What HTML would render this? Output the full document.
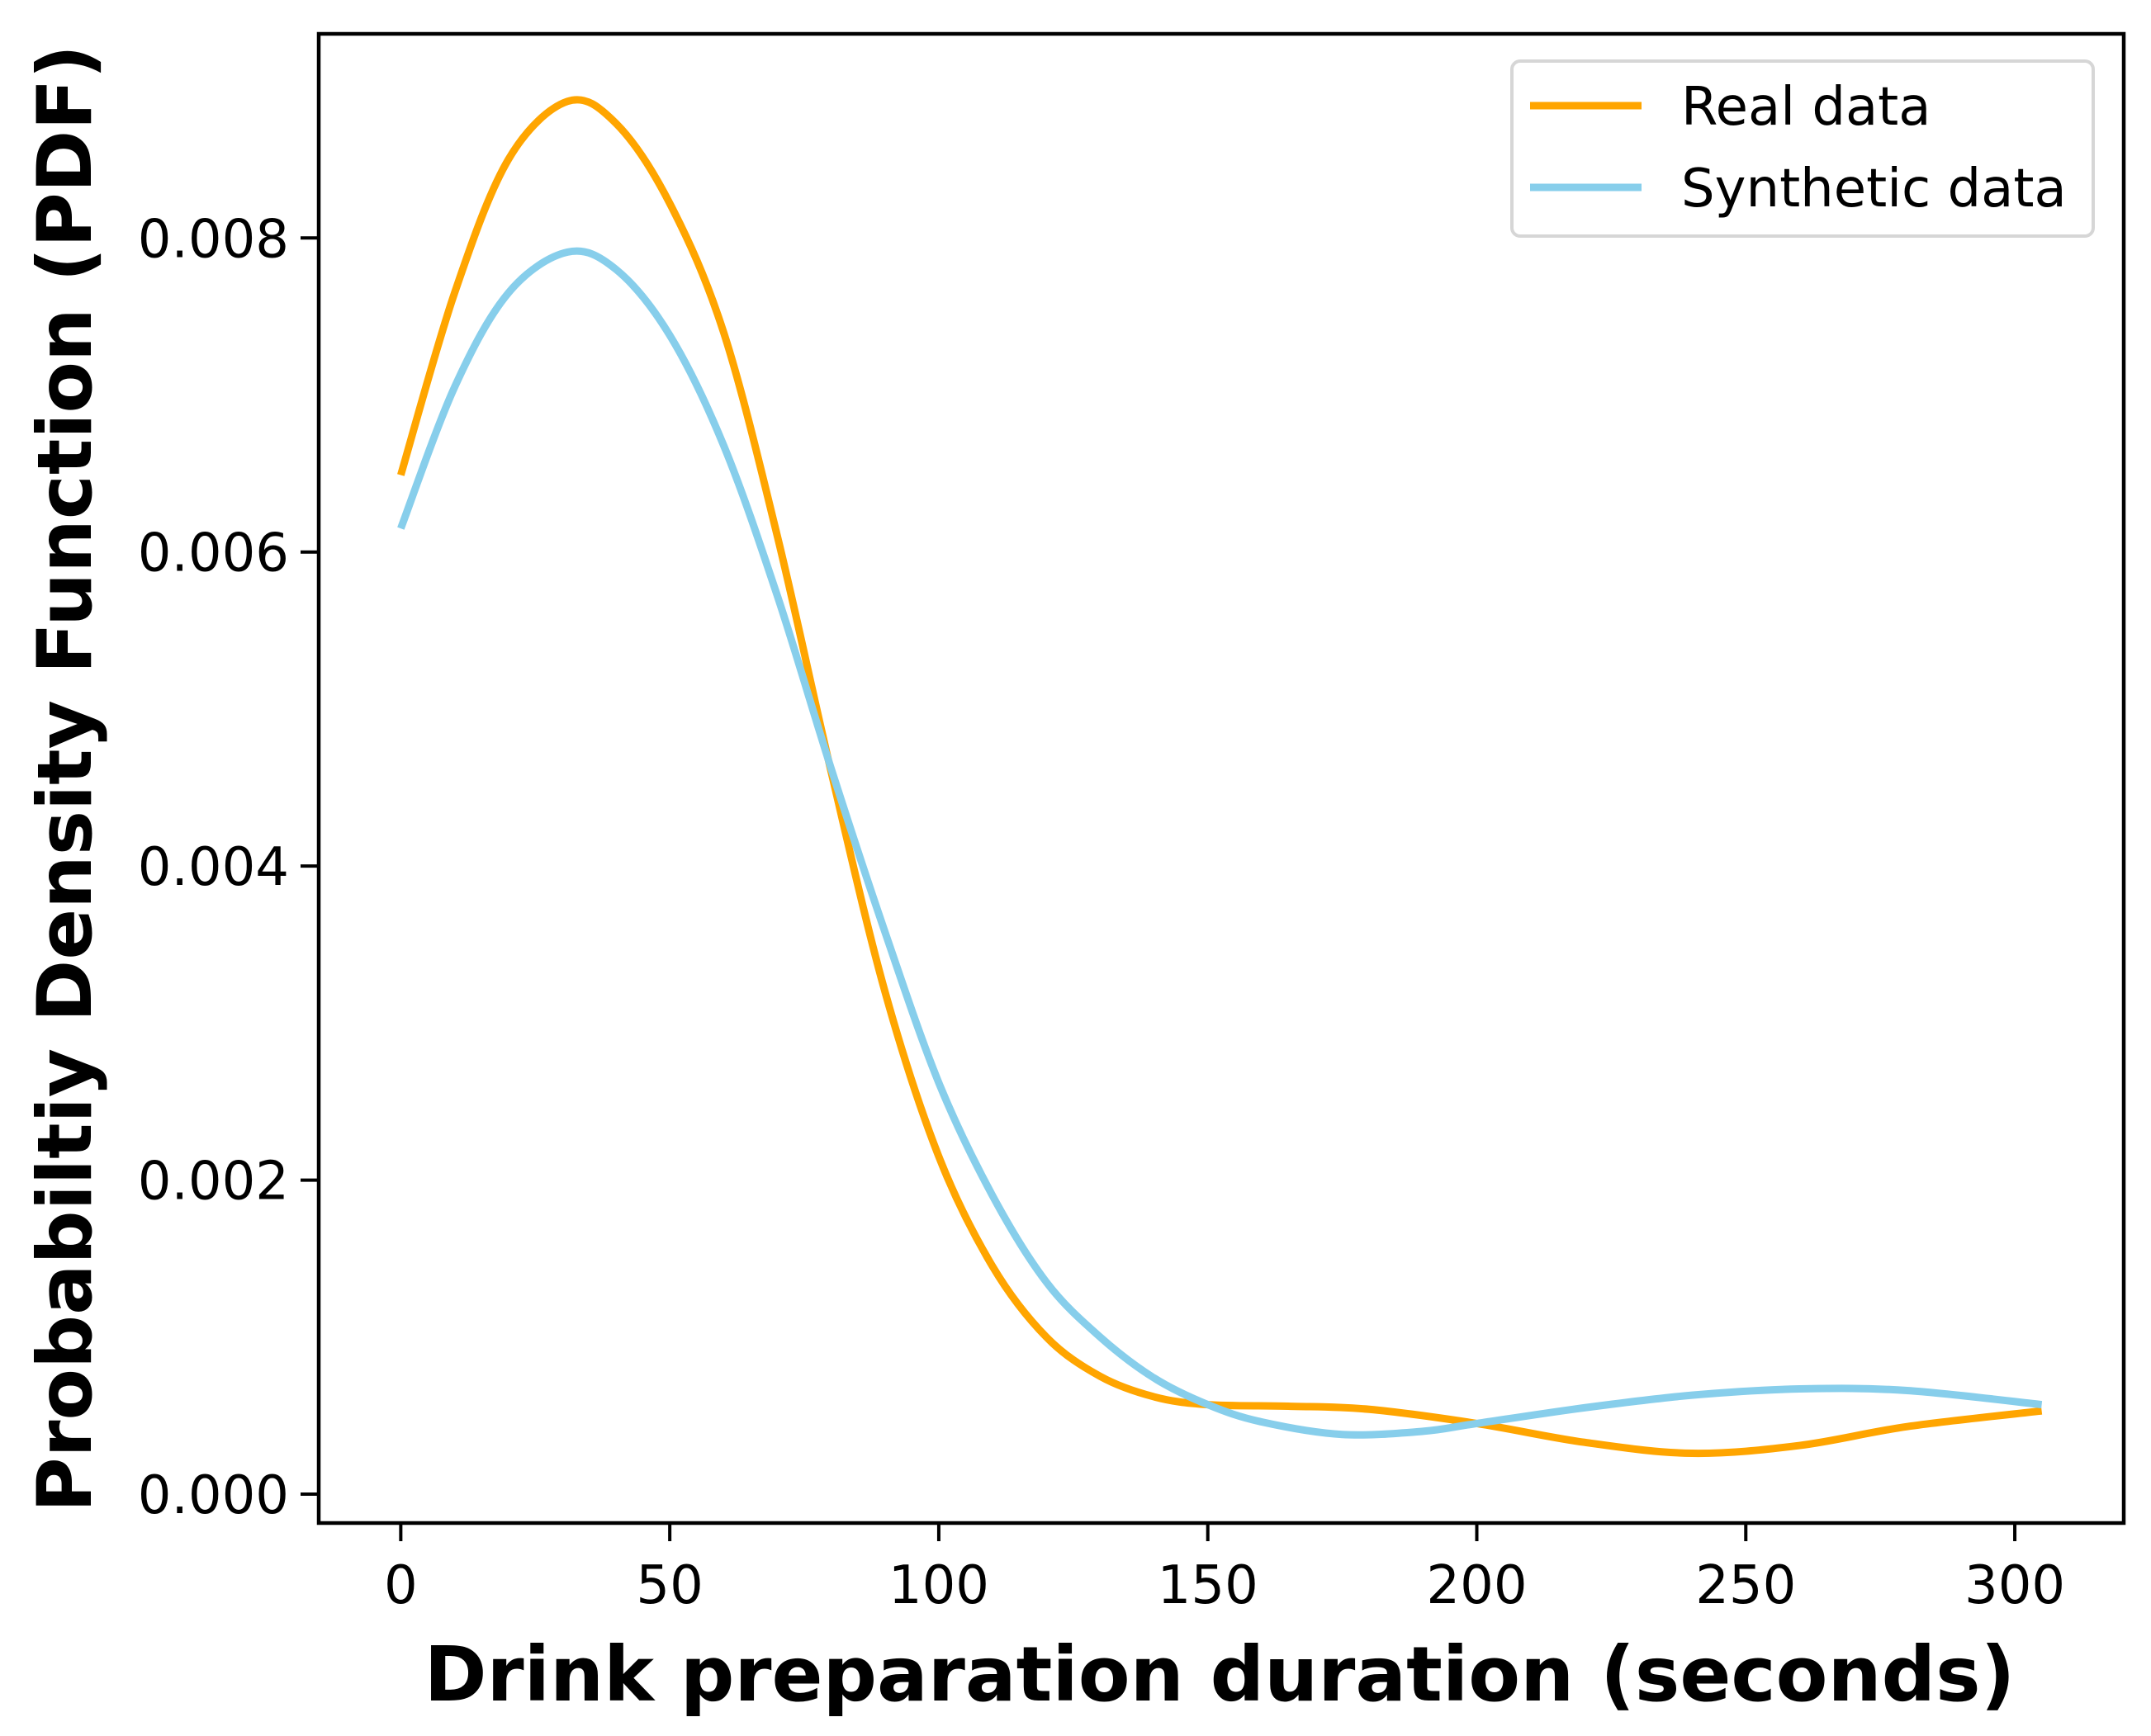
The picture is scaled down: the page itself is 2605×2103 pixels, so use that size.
<!DOCTYPE html>
<html><head><meta charset="utf-8"><style>
html,body{margin:0;padding:0;background:#fff;}
svg{display:block;}
text{font-family:"DejaVu Sans","Liberation Sans",sans-serif;}
</style></head><body>
<svg id="chart" width="2605" height="2103" viewBox="0 0 2605 2103" xmlns="http://www.w3.org/2000/svg">
<rect x="0" y="0" width="2605" height="2103" fill="#fff"/>
<g id="plot"></g>
<g id="axes"></g>
<text x="1477" y="2060" font-size="91.5" font-weight="bold" text-anchor="middle">Drink preparation duration (seconds)</text>
<text x="0" y="0" font-size="91" font-weight="bold" text-anchor="middle" transform="translate(110,943) rotate(-90)">Probabiltiy Density Function (PDF)</text>
<g>
<rect x="1831" y="74" width="704" height="212" rx="10" fill="#fff" stroke="#d6d6d6" stroke-width="4"/>
<line x1="1853" y1="128" x2="1988" y2="128" stroke="#FFA500" stroke-width="9"/>
<text x="2036" y="151" font-size="64">Real data</text>
<line x1="1853" y1="227" x2="1988" y2="227" stroke="#87CEEB" stroke-width="9"/>
<text x="2036" y="250" font-size="64">Synthetic data</text>
</g>
</svg>
<script>
const realX = [0,10,20,31,40,50,60,70,80,90,100,110,120,130,140,150,165,180,200,220,240,260,280,305];
const realY = [0.00649,0.00765,0.00850,0.00887,0.00873,0.00822,0.00740,0.00610,0.00460,0.00320,0.00215,0.00145,0.00100,0.00075,0.00062,0.00057,0.00056,0.00054,0.00045,0.00033,0.00026,0.00031,0.00043,0.00053];
const synthX = [0,10,20,31,40,50,60,70,80,90,100,110,120,130,140,150,160,175,190,200,220,240,260,280,305];
const synthY = [0.00615,0.00705,0.00765,0.00791,0.00780,0.00738,0.00668,0.00572,0.00462,0.00358,0.00262,0.00190,0.00135,0.00100,0.00074,0.00057,0.00046,0.00038,0.00040,0.00045,0.00055,0.00063,0.00067,0.00066,0.00057];
const xTicks = [0,50,100,150,200,250,300];
const yTicks = [0,0.002,0.004,0.006,0.008];
const yTickLabels = ["0.000","0.002","0.004","0.006","0.008"];

const L=386,R=2572,T=41,B=1845;
const xMin=-15.25,xMax=320.25;
const yMin=-0.000184,yMax=0.0093;
function sx(v){return L+(v-xMin)/(xMax-xMin)*(R-L);}
function sy(v){return B-(v-yMin)/(yMax-yMin)*(B-T);}
const NS="http://www.w3.org/2000/svg";
function mk(tag,attrs,parent){const e=document.createElementNS(NS,tag);for(const k in attrs)e.setAttribute(k,attrs[k]);parent.appendChild(e);return e;}
function smoothPath(xs,ys){
  const p=xs.map((x,i)=>[sx(x),sy(ys[i])]);
  let d="M"+p[0][0]+","+p[0][1];
  for(let i=0;i<p.length-1;i++){
    const p0=p[Math.max(0,i-1)],p1=p[i],p2=p[i+1],p3=p[Math.min(p.length-1,i+2)];
    const c1=[p1[0]+(p2[0]-p0[0])/6,p1[1]+(p2[1]-p0[1])/6];
    const c2=[p2[0]-(p3[0]-p1[0])/6,p2[1]-(p3[1]-p1[1])/6];
    d+=" C"+c1[0]+","+c1[1]+" "+c2[0]+","+c2[1]+" "+p2[0]+","+p2[1];
  }
  return d;
}
const plot=document.getElementById('plot');
const axes=document.getElementById('axes');
const realPath=mk('path',{d:smoothPath(realX,realY),fill:'none',stroke:'#FFA500','stroke-width':9,'stroke-linejoin':'round'},plot);


const synPath=mk('path',{d:smoothPath(synthX,synthY),fill:'none',stroke:'#87CEEB','stroke-width':9,'stroke-linejoin':'round'},plot);


const frame=mk('rect',{x:L,y:T,width:R-L,height:B-T,fill:'none',stroke:'#000','stroke-width':4.5},axes);


xTicks.forEach(v=>{
  const x=sx(v);
  const t=mk('line',{x1:x,y1:B,x2:x,y2:B+22,stroke:'#000','stroke-width':4},axes);
  
  
  const lb=mk('text',{x:x,y:1942,'font-size':64,'text-anchor':'middle'},axes);
  
  
  lb.textContent=String(v);
});
yTicks.forEach((v,i)=>{
  const y=sy(v);
  const t=mk('line',{x1:L-22,y1:y,x2:L,y2:y,stroke:'#000','stroke-width':4},axes);
  
  
  const lb=mk('text',{x:L-36,y:y+23,'font-size':64,'text-anchor':'end'},axes);
  
  
  lb.textContent=yTickLabels[i];
});
</script>
</body></html>
